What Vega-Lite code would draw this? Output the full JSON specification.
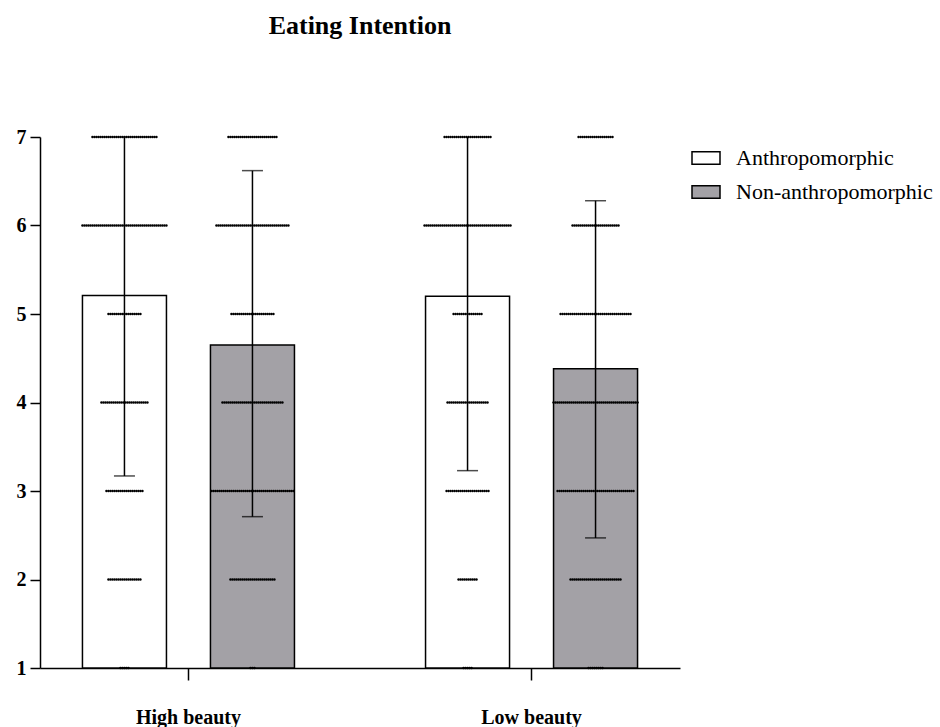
{
"$schema":"https://vega.github.io/schema/vega-lite/v6.json",
"autosize":"none",
"width":640,"height":531,
"padding":{"left":40,"top":137,"right":260,"bottom":59},
"background":"white",
"title":{"text":"Eating Intention","font":"Liberation Serif","fontSize":26,"fontWeight":"bold","color":"black","frame":"group","anchor":"middle","offset":88},
"config":{"view":{"stroke":null}},
"datasets":{
"bars":[
{"beauty":"High beauty","cond":"Anthropomorphic","mean":5.21,"lo":3.17,"hi":7},
{"beauty":"High beauty","cond":"Non-anthropomorphic","mean":4.65,"lo":2.71,"hi":6.62},
{"beauty":"Low beauty","cond":"Anthropomorphic","mean":5.2,"lo":3.23,"hi":7},
{"beauty":"Low beauty","cond":"Non-anthropomorphic","mean":4.38,"lo":2.47,"hi":6.28}
],
"dots":[
{"b":"H","c":"A","s":7},{"b":"H","c":"A","s":7},{"b":"H","c":"A","s":7},{"b":"H","c":"A","s":7},{"b":"H","c":"A","s":7},{"b":"H","c":"A","s":7},{"b":"H","c":"A","s":7},{"b":"H","c":"A","s":7},{"b":"H","c":"A","s":7},{"b":"H","c":"A","s":7},
{"b":"H","c":"A","s":7},{"b":"H","c":"A","s":7},{"b":"H","c":"A","s":7},{"b":"H","c":"A","s":7},{"b":"H","c":"A","s":7},{"b":"H","c":"A","s":7},{"b":"H","c":"A","s":7},{"b":"H","c":"A","s":7},{"b":"H","c":"A","s":7},{"b":"H","c":"A","s":7},
{"b":"H","c":"A","s":7},{"b":"H","c":"A","s":7},{"b":"H","c":"A","s":7},{"b":"H","c":"A","s":7},{"b":"H","c":"A","s":7},{"b":"H","c":"A","s":7},{"b":"H","c":"A","s":7},{"b":"H","c":"A","s":7},{"b":"H","c":"A","s":7},{"b":"H","c":"A","s":7},
{"b":"H","c":"A","s":7},{"b":"H","c":"A","s":7},{"b":"H","c":"A","s":7},
{"b":"H","c":"A","s":6},{"b":"H","c":"A","s":6},{"b":"H","c":"A","s":6},{"b":"H","c":"A","s":6},{"b":"H","c":"A","s":6},{"b":"H","c":"A","s":6},{"b":"H","c":"A","s":6},{"b":"H","c":"A","s":6},{"b":"H","c":"A","s":6},{"b":"H","c":"A","s":6},
{"b":"H","c":"A","s":6},{"b":"H","c":"A","s":6},{"b":"H","c":"A","s":6},{"b":"H","c":"A","s":6},{"b":"H","c":"A","s":6},{"b":"H","c":"A","s":6},{"b":"H","c":"A","s":6},{"b":"H","c":"A","s":6},{"b":"H","c":"A","s":6},{"b":"H","c":"A","s":6},
{"b":"H","c":"A","s":6},{"b":"H","c":"A","s":6},{"b":"H","c":"A","s":6},{"b":"H","c":"A","s":6},{"b":"H","c":"A","s":6},{"b":"H","c":"A","s":6},{"b":"H","c":"A","s":6},{"b":"H","c":"A","s":6},{"b":"H","c":"A","s":6},{"b":"H","c":"A","s":6},
{"b":"H","c":"A","s":6},{"b":"H","c":"A","s":6},{"b":"H","c":"A","s":6},{"b":"H","c":"A","s":6},{"b":"H","c":"A","s":6},{"b":"H","c":"A","s":6},{"b":"H","c":"A","s":6},{"b":"H","c":"A","s":6},{"b":"H","c":"A","s":6},{"b":"H","c":"A","s":6},
{"b":"H","c":"A","s":6},{"b":"H","c":"A","s":6},{"b":"H","c":"A","s":6},
{"b":"H","c":"A","s":5},{"b":"H","c":"A","s":5},{"b":"H","c":"A","s":5},{"b":"H","c":"A","s":5},{"b":"H","c":"A","s":5},{"b":"H","c":"A","s":5},{"b":"H","c":"A","s":5},{"b":"H","c":"A","s":5},{"b":"H","c":"A","s":5},{"b":"H","c":"A","s":5},
{"b":"H","c":"A","s":5},{"b":"H","c":"A","s":5},{"b":"H","c":"A","s":5},{"b":"H","c":"A","s":5},{"b":"H","c":"A","s":5},{"b":"H","c":"A","s":5},{"b":"H","c":"A","s":5},
{"b":"H","c":"A","s":4},{"b":"H","c":"A","s":4},{"b":"H","c":"A","s":4},{"b":"H","c":"A","s":4},{"b":"H","c":"A","s":4},{"b":"H","c":"A","s":4},{"b":"H","c":"A","s":4},{"b":"H","c":"A","s":4},{"b":"H","c":"A","s":4},{"b":"H","c":"A","s":4},
{"b":"H","c":"A","s":4},{"b":"H","c":"A","s":4},{"b":"H","c":"A","s":4},{"b":"H","c":"A","s":4},{"b":"H","c":"A","s":4},{"b":"H","c":"A","s":4},{"b":"H","c":"A","s":4},{"b":"H","c":"A","s":4},{"b":"H","c":"A","s":4},{"b":"H","c":"A","s":4},
{"b":"H","c":"A","s":4},{"b":"H","c":"A","s":4},{"b":"H","c":"A","s":4},{"b":"H","c":"A","s":4},
{"b":"H","c":"A","s":3},{"b":"H","c":"A","s":3},{"b":"H","c":"A","s":3},{"b":"H","c":"A","s":3},{"b":"H","c":"A","s":3},{"b":"H","c":"A","s":3},{"b":"H","c":"A","s":3},{"b":"H","c":"A","s":3},{"b":"H","c":"A","s":3},{"b":"H","c":"A","s":3},
{"b":"H","c":"A","s":3},{"b":"H","c":"A","s":3},{"b":"H","c":"A","s":3},{"b":"H","c":"A","s":3},{"b":"H","c":"A","s":3},{"b":"H","c":"A","s":3},{"b":"H","c":"A","s":3},{"b":"H","c":"A","s":3},{"b":"H","c":"A","s":3},
{"b":"H","c":"A","s":2},{"b":"H","c":"A","s":2},{"b":"H","c":"A","s":2},{"b":"H","c":"A","s":2},{"b":"H","c":"A","s":2},{"b":"H","c":"A","s":2},{"b":"H","c":"A","s":2},{"b":"H","c":"A","s":2},{"b":"H","c":"A","s":2},{"b":"H","c":"A","s":2},
{"b":"H","c":"A","s":2},{"b":"H","c":"A","s":2},{"b":"H","c":"A","s":2},{"b":"H","c":"A","s":2},{"b":"H","c":"A","s":2},{"b":"H","c":"A","s":2},{"b":"H","c":"A","s":2},
{"b":"H","c":"A","s":1},{"b":"H","c":"A","s":1},{"b":"H","c":"A","s":1},{"b":"H","c":"A","s":1},{"b":"H","c":"A","s":1},

{"b":"H","c":"N","s":7},{"b":"H","c":"N","s":7},{"b":"H","c":"N","s":7},{"b":"H","c":"N","s":7},{"b":"H","c":"N","s":7},{"b":"H","c":"N","s":7},{"b":"H","c":"N","s":7},{"b":"H","c":"N","s":7},{"b":"H","c":"N","s":7},{"b":"H","c":"N","s":7},
{"b":"H","c":"N","s":7},{"b":"H","c":"N","s":7},{"b":"H","c":"N","s":7},{"b":"H","c":"N","s":7},{"b":"H","c":"N","s":7},{"b":"H","c":"N","s":7},{"b":"H","c":"N","s":7},{"b":"H","c":"N","s":7},{"b":"H","c":"N","s":7},{"b":"H","c":"N","s":7},
{"b":"H","c":"N","s":7},{"b":"H","c":"N","s":7},{"b":"H","c":"N","s":7},{"b":"H","c":"N","s":7},{"b":"H","c":"N","s":7},
{"b":"H","c":"N","s":6},{"b":"H","c":"N","s":6},{"b":"H","c":"N","s":6},{"b":"H","c":"N","s":6},{"b":"H","c":"N","s":6},{"b":"H","c":"N","s":6},{"b":"H","c":"N","s":6},{"b":"H","c":"N","s":6},{"b":"H","c":"N","s":6},{"b":"H","c":"N","s":6},
{"b":"H","c":"N","s":6},{"b":"H","c":"N","s":6},{"b":"H","c":"N","s":6},{"b":"H","c":"N","s":6},{"b":"H","c":"N","s":6},{"b":"H","c":"N","s":6},{"b":"H","c":"N","s":6},{"b":"H","c":"N","s":6},{"b":"H","c":"N","s":6},{"b":"H","c":"N","s":6},
{"b":"H","c":"N","s":6},{"b":"H","c":"N","s":6},{"b":"H","c":"N","s":6},{"b":"H","c":"N","s":6},{"b":"H","c":"N","s":6},{"b":"H","c":"N","s":6},{"b":"H","c":"N","s":6},{"b":"H","c":"N","s":6},{"b":"H","c":"N","s":6},{"b":"H","c":"N","s":6},
{"b":"H","c":"N","s":6},{"b":"H","c":"N","s":6},{"b":"H","c":"N","s":6},{"b":"H","c":"N","s":6},{"b":"H","c":"N","s":6},{"b":"H","c":"N","s":6},{"b":"H","c":"N","s":6},
{"b":"H","c":"N","s":5},{"b":"H","c":"N","s":5},{"b":"H","c":"N","s":5},{"b":"H","c":"N","s":5},{"b":"H","c":"N","s":5},{"b":"H","c":"N","s":5},{"b":"H","c":"N","s":5},{"b":"H","c":"N","s":5},{"b":"H","c":"N","s":5},{"b":"H","c":"N","s":5},
{"b":"H","c":"N","s":5},{"b":"H","c":"N","s":5},{"b":"H","c":"N","s":5},{"b":"H","c":"N","s":5},{"b":"H","c":"N","s":5},{"b":"H","c":"N","s":5},{"b":"H","c":"N","s":5},{"b":"H","c":"N","s":5},{"b":"H","c":"N","s":5},{"b":"H","c":"N","s":5},
{"b":"H","c":"N","s":5},{"b":"H","c":"N","s":5},
{"b":"H","c":"N","s":4},{"b":"H","c":"N","s":4},{"b":"H","c":"N","s":4},{"b":"H","c":"N","s":4},{"b":"H","c":"N","s":4},{"b":"H","c":"N","s":4},{"b":"H","c":"N","s":4},{"b":"H","c":"N","s":4},{"b":"H","c":"N","s":4},{"b":"H","c":"N","s":4},
{"b":"H","c":"N","s":4},{"b":"H","c":"N","s":4},{"b":"H","c":"N","s":4},{"b":"H","c":"N","s":4},{"b":"H","c":"N","s":4},{"b":"H","c":"N","s":4},{"b":"H","c":"N","s":4},{"b":"H","c":"N","s":4},{"b":"H","c":"N","s":4},{"b":"H","c":"N","s":4},
{"b":"H","c":"N","s":4},{"b":"H","c":"N","s":4},{"b":"H","c":"N","s":4},{"b":"H","c":"N","s":4},{"b":"H","c":"N","s":4},{"b":"H","c":"N","s":4},{"b":"H","c":"N","s":4},{"b":"H","c":"N","s":4},{"b":"H","c":"N","s":4},{"b":"H","c":"N","s":4},
{"b":"H","c":"N","s":4},
{"b":"H","c":"N","s":3},{"b":"H","c":"N","s":3},{"b":"H","c":"N","s":3},{"b":"H","c":"N","s":3},{"b":"H","c":"N","s":3},{"b":"H","c":"N","s":3},{"b":"H","c":"N","s":3},{"b":"H","c":"N","s":3},{"b":"H","c":"N","s":3},{"b":"H","c":"N","s":3},
{"b":"H","c":"N","s":3},{"b":"H","c":"N","s":3},{"b":"H","c":"N","s":3},{"b":"H","c":"N","s":3},{"b":"H","c":"N","s":3},{"b":"H","c":"N","s":3},{"b":"H","c":"N","s":3},{"b":"H","c":"N","s":3},{"b":"H","c":"N","s":3},{"b":"H","c":"N","s":3},
{"b":"H","c":"N","s":3},{"b":"H","c":"N","s":3},{"b":"H","c":"N","s":3},{"b":"H","c":"N","s":3},{"b":"H","c":"N","s":3},{"b":"H","c":"N","s":3},{"b":"H","c":"N","s":3},{"b":"H","c":"N","s":3},{"b":"H","c":"N","s":3},{"b":"H","c":"N","s":3},
{"b":"H","c":"N","s":3},{"b":"H","c":"N","s":3},{"b":"H","c":"N","s":3},{"b":"H","c":"N","s":3},{"b":"H","c":"N","s":3},{"b":"H","c":"N","s":3},{"b":"H","c":"N","s":3},{"b":"H","c":"N","s":3},{"b":"H","c":"N","s":3},{"b":"H","c":"N","s":3},
{"b":"H","c":"N","s":3},{"b":"H","c":"N","s":3},
{"b":"H","c":"N","s":2},{"b":"H","c":"N","s":2},{"b":"H","c":"N","s":2},{"b":"H","c":"N","s":2},{"b":"H","c":"N","s":2},{"b":"H","c":"N","s":2},{"b":"H","c":"N","s":2},{"b":"H","c":"N","s":2},{"b":"H","c":"N","s":2},{"b":"H","c":"N","s":2},
{"b":"H","c":"N","s":2},{"b":"H","c":"N","s":2},{"b":"H","c":"N","s":2},{"b":"H","c":"N","s":2},{"b":"H","c":"N","s":2},{"b":"H","c":"N","s":2},{"b":"H","c":"N","s":2},{"b":"H","c":"N","s":2},{"b":"H","c":"N","s":2},{"b":"H","c":"N","s":2},
{"b":"H","c":"N","s":2},{"b":"H","c":"N","s":2},{"b":"H","c":"N","s":2},
{"b":"H","c":"N","s":1},{"b":"H","c":"N","s":1},{"b":"H","c":"N","s":1},

{"b":"L","c":"A","s":7},{"b":"L","c":"A","s":7},{"b":"L","c":"A","s":7},{"b":"L","c":"A","s":7},{"b":"L","c":"A","s":7},{"b":"L","c":"A","s":7},{"b":"L","c":"A","s":7},{"b":"L","c":"A","s":7},{"b":"L","c":"A","s":7},{"b":"L","c":"A","s":7},
{"b":"L","c":"A","s":7},{"b":"L","c":"A","s":7},{"b":"L","c":"A","s":7},{"b":"L","c":"A","s":7},{"b":"L","c":"A","s":7},{"b":"L","c":"A","s":7},{"b":"L","c":"A","s":7},{"b":"L","c":"A","s":7},{"b":"L","c":"A","s":7},{"b":"L","c":"A","s":7},
{"b":"L","c":"A","s":7},{"b":"L","c":"A","s":7},{"b":"L","c":"A","s":7},{"b":"L","c":"A","s":7},
{"b":"L","c":"A","s":6},{"b":"L","c":"A","s":6},{"b":"L","c":"A","s":6},{"b":"L","c":"A","s":6},{"b":"L","c":"A","s":6},{"b":"L","c":"A","s":6},{"b":"L","c":"A","s":6},{"b":"L","c":"A","s":6},{"b":"L","c":"A","s":6},{"b":"L","c":"A","s":6},
{"b":"L","c":"A","s":6},{"b":"L","c":"A","s":6},{"b":"L","c":"A","s":6},{"b":"L","c":"A","s":6},{"b":"L","c":"A","s":6},{"b":"L","c":"A","s":6},{"b":"L","c":"A","s":6},{"b":"L","c":"A","s":6},{"b":"L","c":"A","s":6},{"b":"L","c":"A","s":6},
{"b":"L","c":"A","s":6},{"b":"L","c":"A","s":6},{"b":"L","c":"A","s":6},{"b":"L","c":"A","s":6},{"b":"L","c":"A","s":6},{"b":"L","c":"A","s":6},{"b":"L","c":"A","s":6},{"b":"L","c":"A","s":6},{"b":"L","c":"A","s":6},{"b":"L","c":"A","s":6},
{"b":"L","c":"A","s":6},{"b":"L","c":"A","s":6},{"b":"L","c":"A","s":6},{"b":"L","c":"A","s":6},{"b":"L","c":"A","s":6},{"b":"L","c":"A","s":6},{"b":"L","c":"A","s":6},{"b":"L","c":"A","s":6},{"b":"L","c":"A","s":6},{"b":"L","c":"A","s":6},
{"b":"L","c":"A","s":6},{"b":"L","c":"A","s":6},{"b":"L","c":"A","s":6},{"b":"L","c":"A","s":6},
{"b":"L","c":"A","s":5},{"b":"L","c":"A","s":5},{"b":"L","c":"A","s":5},{"b":"L","c":"A","s":5},{"b":"L","c":"A","s":5},{"b":"L","c":"A","s":5},{"b":"L","c":"A","s":5},{"b":"L","c":"A","s":5},{"b":"L","c":"A","s":5},{"b":"L","c":"A","s":5},
{"b":"L","c":"A","s":5},{"b":"L","c":"A","s":5},{"b":"L","c":"A","s":5},{"b":"L","c":"A","s":5},{"b":"L","c":"A","s":5},
{"b":"L","c":"A","s":4},{"b":"L","c":"A","s":4},{"b":"L","c":"A","s":4},{"b":"L","c":"A","s":4},{"b":"L","c":"A","s":4},{"b":"L","c":"A","s":4},{"b":"L","c":"A","s":4},{"b":"L","c":"A","s":4},{"b":"L","c":"A","s":4},{"b":"L","c":"A","s":4},
{"b":"L","c":"A","s":4},{"b":"L","c":"A","s":4},{"b":"L","c":"A","s":4},{"b":"L","c":"A","s":4},{"b":"L","c":"A","s":4},{"b":"L","c":"A","s":4},{"b":"L","c":"A","s":4},{"b":"L","c":"A","s":4},{"b":"L","c":"A","s":4},{"b":"L","c":"A","s":4},
{"b":"L","c":"A","s":4},
{"b":"L","c":"A","s":3},{"b":"L","c":"A","s":3},{"b":"L","c":"A","s":3},{"b":"L","c":"A","s":3},{"b":"L","c":"A","s":3},{"b":"L","c":"A","s":3},{"b":"L","c":"A","s":3},{"b":"L","c":"A","s":3},{"b":"L","c":"A","s":3},{"b":"L","c":"A","s":3},
{"b":"L","c":"A","s":3},{"b":"L","c":"A","s":3},{"b":"L","c":"A","s":3},{"b":"L","c":"A","s":3},{"b":"L","c":"A","s":3},{"b":"L","c":"A","s":3},{"b":"L","c":"A","s":3},{"b":"L","c":"A","s":3},{"b":"L","c":"A","s":3},{"b":"L","c":"A","s":3},
{"b":"L","c":"A","s":3},{"b":"L","c":"A","s":3},
{"b":"L","c":"A","s":2},{"b":"L","c":"A","s":2},{"b":"L","c":"A","s":2},{"b":"L","c":"A","s":2},{"b":"L","c":"A","s":2},{"b":"L","c":"A","s":2},{"b":"L","c":"A","s":2},{"b":"L","c":"A","s":2},{"b":"L","c":"A","s":2},{"b":"L","c":"A","s":2},
{"b":"L","c":"A","s":1},{"b":"L","c":"A","s":1},{"b":"L","c":"A","s":1},{"b":"L","c":"A","s":1},{"b":"L","c":"A","s":1},

{"b":"L","c":"N","s":7},{"b":"L","c":"N","s":7},{"b":"L","c":"N","s":7},{"b":"L","c":"N","s":7},{"b":"L","c":"N","s":7},{"b":"L","c":"N","s":7},{"b":"L","c":"N","s":7},{"b":"L","c":"N","s":7},{"b":"L","c":"N","s":7},{"b":"L","c":"N","s":7},
{"b":"L","c":"N","s":7},{"b":"L","c":"N","s":7},{"b":"L","c":"N","s":7},{"b":"L","c":"N","s":7},{"b":"L","c":"N","s":7},{"b":"L","c":"N","s":7},{"b":"L","c":"N","s":7},{"b":"L","c":"N","s":7},
{"b":"L","c":"N","s":6},{"b":"L","c":"N","s":6},{"b":"L","c":"N","s":6},{"b":"L","c":"N","s":6},{"b":"L","c":"N","s":6},{"b":"L","c":"N","s":6},{"b":"L","c":"N","s":6},{"b":"L","c":"N","s":6},{"b":"L","c":"N","s":6},{"b":"L","c":"N","s":6},
{"b":"L","c":"N","s":6},{"b":"L","c":"N","s":6},{"b":"L","c":"N","s":6},{"b":"L","c":"N","s":6},{"b":"L","c":"N","s":6},{"b":"L","c":"N","s":6},{"b":"L","c":"N","s":6},{"b":"L","c":"N","s":6},{"b":"L","c":"N","s":6},{"b":"L","c":"N","s":6},
{"b":"L","c":"N","s":6},{"b":"L","c":"N","s":6},{"b":"L","c":"N","s":6},{"b":"L","c":"N","s":6},
{"b":"L","c":"N","s":5},{"b":"L","c":"N","s":5},{"b":"L","c":"N","s":5},{"b":"L","c":"N","s":5},{"b":"L","c":"N","s":5},{"b":"L","c":"N","s":5},{"b":"L","c":"N","s":5},{"b":"L","c":"N","s":5},{"b":"L","c":"N","s":5},{"b":"L","c":"N","s":5},
{"b":"L","c":"N","s":5},{"b":"L","c":"N","s":5},{"b":"L","c":"N","s":5},{"b":"L","c":"N","s":5},{"b":"L","c":"N","s":5},{"b":"L","c":"N","s":5},{"b":"L","c":"N","s":5},{"b":"L","c":"N","s":5},{"b":"L","c":"N","s":5},{"b":"L","c":"N","s":5},
{"b":"L","c":"N","s":5},{"b":"L","c":"N","s":5},{"b":"L","c":"N","s":5},{"b":"L","c":"N","s":5},{"b":"L","c":"N","s":5},{"b":"L","c":"N","s":5},{"b":"L","c":"N","s":5},{"b":"L","c":"N","s":5},{"b":"L","c":"N","s":5},{"b":"L","c":"N","s":5},
{"b":"L","c":"N","s":5},{"b":"L","c":"N","s":5},{"b":"L","c":"N","s":5},{"b":"L","c":"N","s":5},{"b":"L","c":"N","s":5},{"b":"L","c":"N","s":5},
{"b":"L","c":"N","s":4},{"b":"L","c":"N","s":4},{"b":"L","c":"N","s":4},{"b":"L","c":"N","s":4},{"b":"L","c":"N","s":4},{"b":"L","c":"N","s":4},{"b":"L","c":"N","s":4},{"b":"L","c":"N","s":4},{"b":"L","c":"N","s":4},{"b":"L","c":"N","s":4},
{"b":"L","c":"N","s":4},{"b":"L","c":"N","s":4},{"b":"L","c":"N","s":4},{"b":"L","c":"N","s":4},{"b":"L","c":"N","s":4},{"b":"L","c":"N","s":4},{"b":"L","c":"N","s":4},{"b":"L","c":"N","s":4},{"b":"L","c":"N","s":4},{"b":"L","c":"N","s":4},
{"b":"L","c":"N","s":4},{"b":"L","c":"N","s":4},{"b":"L","c":"N","s":4},{"b":"L","c":"N","s":4},{"b":"L","c":"N","s":4},{"b":"L","c":"N","s":4},{"b":"L","c":"N","s":4},{"b":"L","c":"N","s":4},{"b":"L","c":"N","s":4},{"b":"L","c":"N","s":4},
{"b":"L","c":"N","s":4},{"b":"L","c":"N","s":4},{"b":"L","c":"N","s":4},{"b":"L","c":"N","s":4},{"b":"L","c":"N","s":4},{"b":"L","c":"N","s":4},{"b":"L","c":"N","s":4},{"b":"L","c":"N","s":4},{"b":"L","c":"N","s":4},{"b":"L","c":"N","s":4},
{"b":"L","c":"N","s":4},{"b":"L","c":"N","s":4},{"b":"L","c":"N","s":4},
{"b":"L","c":"N","s":3},{"b":"L","c":"N","s":3},{"b":"L","c":"N","s":3},{"b":"L","c":"N","s":3},{"b":"L","c":"N","s":3},{"b":"L","c":"N","s":3},{"b":"L","c":"N","s":3},{"b":"L","c":"N","s":3},{"b":"L","c":"N","s":3},{"b":"L","c":"N","s":3},
{"b":"L","c":"N","s":3},{"b":"L","c":"N","s":3},{"b":"L","c":"N","s":3},{"b":"L","c":"N","s":3},{"b":"L","c":"N","s":3},{"b":"L","c":"N","s":3},{"b":"L","c":"N","s":3},{"b":"L","c":"N","s":3},{"b":"L","c":"N","s":3},{"b":"L","c":"N","s":3},
{"b":"L","c":"N","s":3},{"b":"L","c":"N","s":3},{"b":"L","c":"N","s":3},{"b":"L","c":"N","s":3},{"b":"L","c":"N","s":3},{"b":"L","c":"N","s":3},{"b":"L","c":"N","s":3},{"b":"L","c":"N","s":3},{"b":"L","c":"N","s":3},{"b":"L","c":"N","s":3},
{"b":"L","c":"N","s":3},{"b":"L","c":"N","s":3},{"b":"L","c":"N","s":3},{"b":"L","c":"N","s":3},{"b":"L","c":"N","s":3},{"b":"L","c":"N","s":3},{"b":"L","c":"N","s":3},{"b":"L","c":"N","s":3},{"b":"L","c":"N","s":3},
{"b":"L","c":"N","s":2},{"b":"L","c":"N","s":2},{"b":"L","c":"N","s":2},{"b":"L","c":"N","s":2},{"b":"L","c":"N","s":2},{"b":"L","c":"N","s":2},{"b":"L","c":"N","s":2},{"b":"L","c":"N","s":2},{"b":"L","c":"N","s":2},{"b":"L","c":"N","s":2},
{"b":"L","c":"N","s":2},{"b":"L","c":"N","s":2},{"b":"L","c":"N","s":2},{"b":"L","c":"N","s":2},{"b":"L","c":"N","s":2},{"b":"L","c":"N","s":2},{"b":"L","c":"N","s":2},{"b":"L","c":"N","s":2},{"b":"L","c":"N","s":2},{"b":"L","c":"N","s":2},
{"b":"L","c":"N","s":2},{"b":"L","c":"N","s":2},{"b":"L","c":"N","s":2},{"b":"L","c":"N","s":2},{"b":"L","c":"N","s":2},{"b":"L","c":"N","s":2},
{"b":"L","c":"N","s":1},{"b":"L","c":"N","s":1},{"b":"L","c":"N","s":1},{"b":"L","c":"N","s":1},{"b":"L","c":"N","s":1},{"b":"L","c":"N","s":1},{"b":"L","c":"N","s":1},{"b":"L","c":"N","s":1}
],
"names":[{"b":"H","beauty":"High beauty"},{"b":"L","beauty":"Low beauty"}]
},
"resolve":{"scale":{"xOffset":"independent"}},
"layer":[
{
"data":{"name":"bars"},
"encoding":{
"x":{"field":"beauty","type":"nominal","sort":["High beauty","Low beauty"],"scale":{"paddingInner":0.2,"paddingOuter":0.0327},
"axis":{"title":null,"labelAngle":0,"domainColor":"black","domainWidth":1.5,"tickColor":"black","tickWidth":1.5,"tickSize":12,"labelFont":"Liberation Serif","labelFontSize":20,"labelFontWeight":"bold","labelColor":"black","labelPadding":27}},
"xOffset":{"field":"cond","type":"nominal","sort":["Anthropomorphic","Non-anthropomorphic"],"scale":{"paddingInner":0.34375,"paddingOuter":0.244}}
},
"layer":[
{
"mark":{"type":"bar","stroke":"black","strokeWidth":1.5},
"encoding":{
"y":{"field":"mean","type":"quantitative","scale":{"domain":[1,7],"nice":false,"zero":false},
"axis":{"title":null,"values":[1,2,3,4,5,6,7],"format":"d","grid":false,"domainColor":"black","domainWidth":1.5,"tickColor":"black","tickWidth":1.5,"tickSize":10,"labelFont":"Liberation Serif","labelFontSize":20,"labelFontWeight":"bold","labelColor":"black","labelPadding":4}},
"y2":{"datum":1},
"fill":{"field":"cond","type":"nominal","scale":{"domain":["Anthropomorphic","Non-anthropomorphic"],"range":["#ffffff","#a3a1a6"]},
"legend":{"title":null,"orient":"none","legendX":651,"legendY":6,"symbolType":"M-1,-0.45H1V0.45H-1Z","symbolSize":784,"symbolStrokeColor":"black","symbolStrokeWidth":1.5,"labelFont":"Liberation Serif","labelFontSize":22,"labelColor":"black","labelOffset":15,"labelLimit":400,"rowPadding":8,"padding":0}}
}
},
{
"mark":{"type":"rule","color":"black","strokeWidth":1.5},
"encoding":{"y":{"field":"lo","type":"quantitative"},"y2":{"field":"hi"}}
},
{
"transform":[{"fold":["lo","hi"],"as":["k","v"]},{"filter":"datum.v < 7"}],
"mark":{"type":"tick","color":"black","thickness":1.5,"size":21},
"encoding":{"y":{"field":"v","type":"quantitative"}}
}
]
},
{
"data":{"name":"dots"},
"transform":[
{"filter":"datum.c === 'A'"},
{"lookup":"b","from":{"data":{"name":"names"},"key":"b","fields":["beauty"]}},
{"window":[{"op":"count","as":"one"}],"frame":[0,0]},
{"stack":"one","groupby":["b","s"],"offset":"center","as":["d0","d1"]}
],
"mark":{"type":"point","filled":true,"shape":"circle","size":6,"color":"black","opacity":1,"strokeWidth":0},
"encoding":{
"x":{"field":"beauty","type":"nominal","sort":["High beauty","Low beauty"]},
"xOffset":{"field":"d0","type":"quantitative","scale":{"domain":[12,32],"range":[54.23,94.23],"zero":false,"nice":false}},
"y":{"field":"s","type":"quantitative"}
}
},
{
"data":{"name":"dots"},
"transform":[
{"filter":"datum.c === 'N'"},
{"lookup":"b","from":{"data":{"name":"names"},"key":"b","fields":["beauty"]}},
{"window":[{"op":"count","as":"one"}],"frame":[0,0]},
{"stack":"one","groupby":["b","s"],"offset":"center","as":["d0","d1"]}
],
"mark":{"type":"point","filled":true,"shape":"circle","size":6,"color":"black","opacity":1,"strokeWidth":0},
"encoding":{
"x":{"field":"beauty","type":"nominal","sort":["High beauty","Low beauty"]},
"xOffset":{"field":"d0","type":"quantitative","scale":{"domain":[11.5,31.5],"range":[182.23,222.23],"zero":false,"nice":false}},
"y":{"field":"s","type":"quantitative"}
}
}
]
}
